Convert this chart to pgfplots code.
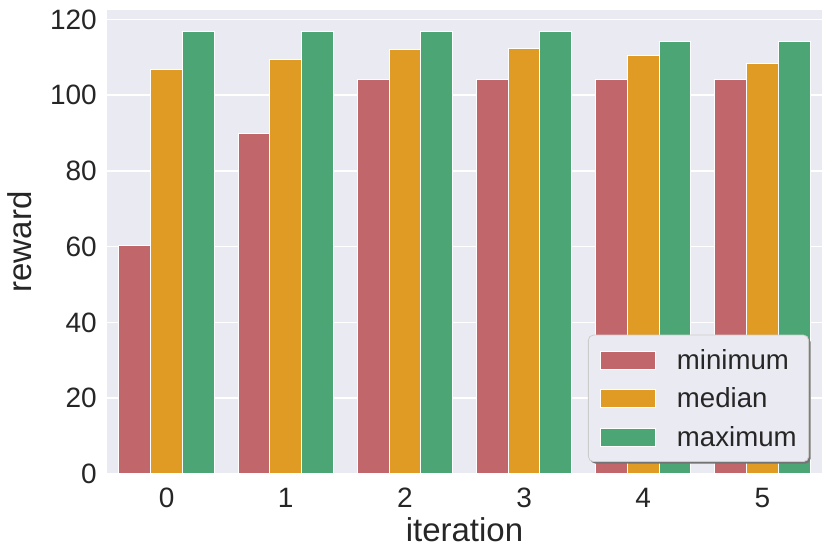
\documentclass[border=0pt]{standalone}
\usepackage{fontspec}
\setmainfont{Liberation Sans}
\usepackage{pgfplots}
\pgfplotsset{compat=1.18}
\usetikzlibrary{shadows}
\definecolor{bg}{HTML}{EAEAF2}
\definecolor{cmin}{RGB}{193,103,107}
\definecolor{cmed}{RGB}{224,155,36}
\definecolor{cmax}{RGB}{75,165,117}
\definecolor{txt}{HTML}{262626}
\newcommand\legpatch[1]{%
  \pgfsetcornersarced{\pgfpointorigin}%
  \pgfsetfillcolor{#1}\pgfsetstrokecolor{white}\pgfsetlinewidth{0.6pt}%
  \pgfpathrectangle{\pgfpoint{0pt}{-9pt}}{\pgfpoint{55pt}{18pt}}%
  \pgfusepath{fill,stroke}}
\begin{document}
\begin{tikzpicture}
\path[use as bounding box] (-107pt,-82pt) rectangle (723pt,474pt);
\begin{axis}[
  at={(0,0)}, anchor=south west,
  scale only axis, width=715pt, height=464pt,
  xmin=-0.5, xmax=5.5, ymin=0, ymax=122.5,
  axis background/.style={fill=bg},
  axis line style={draw=none},
  major tick length=0pt,
  ymajorgrids,
  grid style={white, line width=1.5pt},
  xtick={0,1,2,3,4,5}, ytick={0,20,40,60,80,100,120},
  tick label style={font=\fontsize{28}{32}\selectfont, text=txt},
  /pgf/number format/assume math mode=true,
  xticklabel style={anchor=base, yshift=-34pt, inner sep=0pt},
  yticklabel style={anchor=east, xshift=-10pt, inner sep=0pt},
  xlabel={iteration}, ylabel={reward},
  label style={font=\fontsize{33}{38}\selectfont, text=txt},
  xlabel style={at={(axis description cs:0.5,-0.1459)}, anchor=base, inner sep=0pt},
  ylabel style={at={(axis description cs:-0.1049,0.5)}, anchor=south, inner sep=0pt},
  legend style={at={(1,0)}, anchor=south east, xshift=-13pt, yshift=12pt,
    fill=bg, draw=black!20, line width=0.8pt, rounded corners=5pt,
    drop shadow={shadow xshift=2pt, shadow yshift=-2pt, fill=black!55, opacity=1},
    font=\fontsize{27.6}{32}\selectfont, text=txt,
    inner xsep=12pt, inner ysep=14pt, row sep=17pt, column sep=0pt,
    nodes={inner sep=0pt}},
  legend cell align=left,
]
\addplot[ybar, bar width=0.2667, bar shift=-0.2667, fill=cmin, draw=white, line width=1pt,
  legend image code/.code={\legpatch{cmin}}]
  coordinates {(0,60.4) (1,90.0) (2,104.2) (3,104.2) (4,104.2) (5,104.2)};
\addlegendentry{\hspace*{21pt}minimum}
\addplot[ybar, bar width=0.2667, bar shift=0, fill=cmed, draw=white, line width=1pt,
  legend image code/.code={\legpatch{cmed}}]
  coordinates {(0,106.8) (1,109.5) (2,112.0) (3,112.4) (4,110.6) (5,108.3)};
\addlegendentry{\hspace*{21pt}median}
\addplot[ybar, bar width=0.2667, bar shift=0.2667, fill=cmax, draw=white, line width=1pt,
  legend image code/.code={\legpatch{cmax}}]
  coordinates {(0,116.7) (1,116.7) (2,116.7) (3,116.7) (4,114.3) (5,114.3)};
\addlegendentry{\hspace*{21pt}maximum}
\end{axis}
\end{tikzpicture}
\end{document}
